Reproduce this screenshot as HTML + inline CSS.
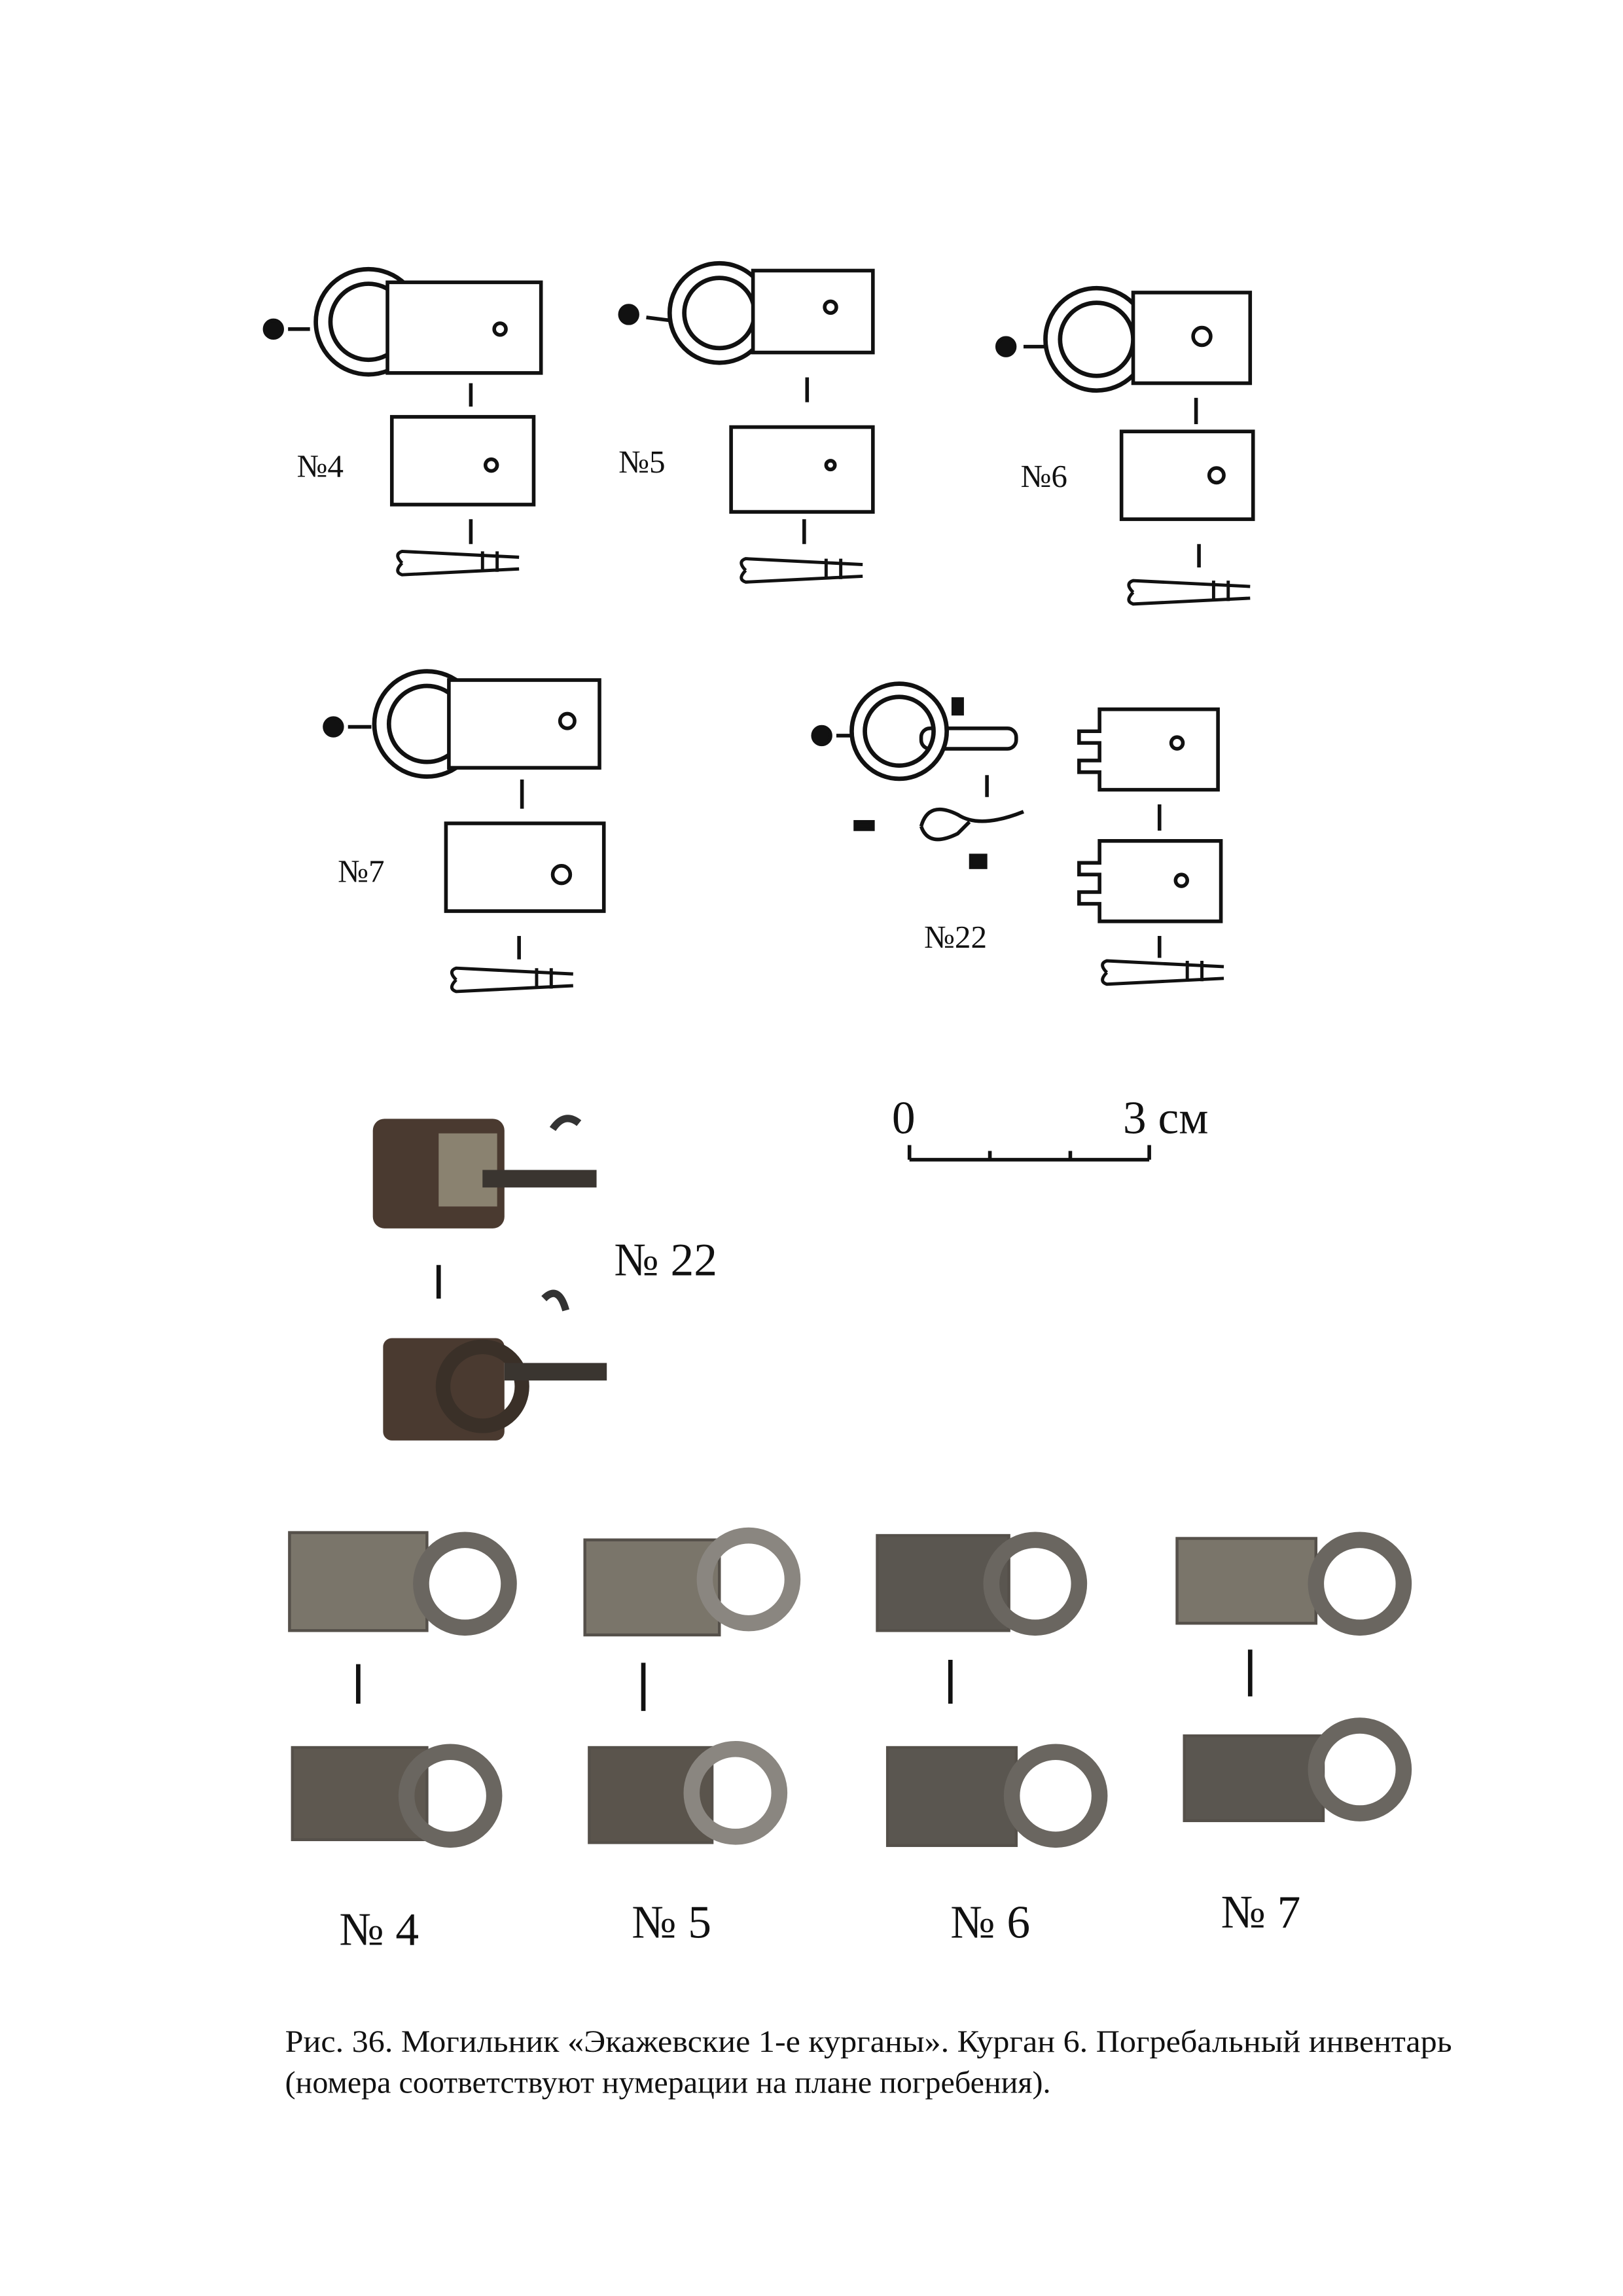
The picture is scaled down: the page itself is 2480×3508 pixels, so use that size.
<!DOCTYPE html>
<html><head><meta charset="utf-8"><style>
html,body{margin:0;padding:0;background:#fff;}
svg{display:block;}
text{font-family:"Liberation Serif",serif;fill:#111;}
</style></head><body>
<svg width="2480" height="3508" viewBox="0 0 1110 1570" xmlns="http://www.w3.org/2000/svg">
<defs>
<g id="pin"><path d="M0 0 q-6 -6 0 -8 l80 4 M0 0 q-6 6 0 8 l80 -4 M55 -8 l0 14 M65 -8 l0 14" stroke="#111" stroke-width="2.2" fill="none"/></g>
</defs>
<g stroke="#111" stroke-width="2.5" fill="#fff">
<!-- #4 -->
<circle cx="187" cy="225" r="6" fill="#111"/><line x1="197" y1="225" x2="212" y2="225"/>
<circle cx="252" cy="220" r="31" fill="none" stroke-width="13"/><circle cx="252" cy="220" r="31" fill="none" stroke="#fff" stroke-width="7"/>
<rect x="265" y="193" width="105" height="62"/>
<circle cx="342" cy="225" r="4"/>
<line x1="322" y1="262" x2="322" y2="278"/>
<rect x="268" y="285" width="97" height="60"/><circle cx="336" cy="318" r="4"/>
<line x1="322" y1="355" x2="322" y2="372"/>
<use href="#pin" x="275" y="385"/>
<!-- #5 -->
<circle cx="430" cy="215" r="6" fill="#111"/><line x1="442" y1="217" x2="458" y2="219"/>
<circle cx="492" cy="214" r="29" fill="none" stroke-width="13"/><circle cx="492" cy="214" r="29" fill="none" stroke="#fff" stroke-width="7"/>
<rect x="515" y="185" width="82" height="56"/><circle cx="568" cy="210" r="4"/>
<line x1="552" y1="258" x2="552" y2="275"/>
<rect x="500" y="292" width="97" height="58"/><circle cx="568" cy="318" r="3"/>
<line x1="550" y1="355" x2="550" y2="372"/>
<use href="#pin" x="510" y="390"/>
<!-- #6 -->
<circle cx="688" cy="237" r="6" fill="#111"/><line x1="700" y1="237" x2="715" y2="237"/>
<circle cx="750" cy="232" r="30" fill="none" stroke-width="13"/><circle cx="750" cy="232" r="30" fill="none" stroke="#fff" stroke-width="7"/>
<rect x="775" y="200" width="80" height="62"/><circle cx="822" cy="230" r="6"/>
<line x1="818" y1="272" x2="818" y2="290"/>
<rect x="767" y="295" width="90" height="60"/><circle cx="832" cy="325" r="5"/>
<line x1="820" y1="372" x2="820" y2="388"/>
<use href="#pin" x="775" y="405"/>
<!-- #7 -->
<circle cx="228" cy="497" r="6" fill="#111"/><line x1="238" y1="497" x2="254" y2="497"/>
<circle cx="292" cy="495" r="31" fill="none" stroke-width="13"/><circle cx="292" cy="495" r="31" fill="none" stroke="#fff" stroke-width="7"/>
<rect x="307" y="465" width="103" height="60"/><circle cx="388" cy="493" r="5"/>
<line x1="357" y1="533" x2="357" y2="553"/>
<rect x="305" y="563" width="108" height="60"/><circle cx="384" cy="598" r="6"/>
<line x1="355" y1="640" x2="355" y2="656"/>
<use href="#pin" x="312" y="670"/>
<!-- #22 -->
<circle cx="562" cy="503" r="6" fill="#111"/><line x1="572" y1="503" x2="582" y2="503"/>
<rect x="630" y="498" width="65" height="14" rx="6"/>
<circle cx="615" cy="500" r="28" fill="none" stroke-width="12"/><circle cx="615" cy="500" r="28" fill="none" stroke="#fff" stroke-width="6"/>
<rect x="652" y="478" width="6" height="10" fill="#111"/>
<line x1="675" y1="530" x2="675" y2="545"/>
<path d="M630 565 q5 -18 25 -8 q15 10 45 -2 M630 565 q5 15 25 5 l8 -8" fill="none"/>
<rect x="585" y="562" width="12" height="5" fill="#111"/><rect x="664" y="585" width="10" height="8" fill="#111"/>
<path d="M752 485 h81 v55 h-81 v-12 h-14 v-8 h14 v-12 h-14 v-8 h14 z"/><circle cx="805" cy="508" r="4"/>
<line x1="793" y1="550" x2="793" y2="568"/>
<path d="M752 575 h83 v55 h-83 v-12 h-14 v-8 h14 v-12 h-14 v-8 h14 z"/><circle cx="808" cy="602" r="4"/>
<line x1="793" y1="640" x2="793" y2="655"/>
<use href="#pin" x="757" y="665"/>
</g>
<text x="203" y="326" font-size="22">№4</text>
<text x="423" y="323" font-size="22">№5</text>
<text x="698" y="333" font-size="22">№6</text>
<text x="231" y="603" font-size="22">№7</text>
<text x="632" y="648" font-size="22">№22</text>
<!-- scale -->
<text x="610" y="775" font-size="32">0</text>
<text x="768" y="775" font-size="32">3 см</text>
<g stroke="#111" stroke-width="2.5"><line x1="622" y1="793" x2="786" y2="793"/><line x1="622" y1="783" x2="622" y2="793"/><line x1="677" y1="787" x2="677" y2="793"/><line x1="732" y1="787" x2="732" y2="793"/><line x1="786" y1="783" x2="786" y2="793"/></g>
<!-- photos 22 -->
<g>
<rect x="255" y="765" width="90" height="75" rx="8" fill="#4a3a30"/>
<rect x="300" y="775" width="40" height="50" fill="#8a8270"/>
<rect x="330" y="800" width="78" height="12" fill="#3a3530"/>
<path d="M378 772 q8 -12 18 -4" stroke="#333" stroke-width="5" fill="none"/>
<line x1="300" y1="865" x2="300" y2="888" stroke="#111" stroke-width="3"/>
<rect x="262" y="915" width="83" height="70" rx="6" fill="#4a3a30"/>
<circle cx="330" cy="948" r="27" fill="none" stroke="#3a3028" stroke-width="10"/>
<rect x="345" y="932" width="70" height="12" fill="#3a3530"/>
<path d="M372 888 q10 -10 15 8" stroke="#333" stroke-width="5" fill="none"/>
</g>
<text x="420" y="872" font-size="32">№ 22</text>
<!-- bottom photos -->
<g fill="#7a756a" stroke="#55504a" stroke-width="2">
<rect x="198" y="1048" width="94" height="67"/><circle cx="318" cy="1083" r="30" fill="none" stroke="#6a6660" stroke-width="11"/>
<rect x="200" y="1195" width="92" height="63" fill="#5e5850"/><circle cx="308" cy="1228" r="30" fill="none" stroke="#6a6660" stroke-width="11"/>
<rect x="400" y="1053" width="92" height="65"/><circle cx="512" cy="1080" r="30" fill="none" stroke="#8a8680" stroke-width="11"/>
<rect x="403" y="1195" width="84" height="65" fill="#5a544c"/><circle cx="503" cy="1226" r="30" fill="none" stroke="#8a8680" stroke-width="11"/>
<rect x="600" y="1050" width="90" height="65" fill="#5a5650"/><circle cx="708" cy="1083" r="30" fill="none" stroke="#6a6660" stroke-width="11"/>
<rect x="607" y="1195" width="88" height="67" fill="#5a5650"/><circle cx="722" cy="1228" r="30" fill="none" stroke="#6a6660" stroke-width="11"/>
<rect x="805" y="1052" width="95" height="58"/><circle cx="930" cy="1083" r="30" fill="none" stroke="#6a6660" stroke-width="11"/>
<rect x="810" y="1187" width="95" height="58" fill="#5a5650"/><circle cx="930" cy="1210" r="30" fill="none" stroke="#6a6660" stroke-width="11"/>
</g>
<g stroke="#111" stroke-width="3">
<line x1="245" y1="1138" x2="245" y2="1165"/><line x1="440" y1="1137" x2="440" y2="1170"/>
<line x1="650" y1="1135" x2="650" y2="1165"/><line x1="855" y1="1128" x2="855" y2="1160"/>
</g>
<text x="232" y="1330" font-size="32">№ 4</text>
<text x="432" y="1325" font-size="32">№ 5</text>
<text x="650" y="1325" font-size="32">№ 6</text>
<text x="835" y="1318" font-size="32">№ 7</text>
<text x="195" y="1403" font-size="21.5" textLength="798" lengthAdjust="spacingAndGlyphs">Рис. 36. Могильник «Экажевские 1-е курганы». Курган 6. Погребальный инвентарь</text>
<text x="195" y="1431" font-size="21.5">(номера соответствуют нумерации на плане погребения).</text>
</svg>
</body></html>
